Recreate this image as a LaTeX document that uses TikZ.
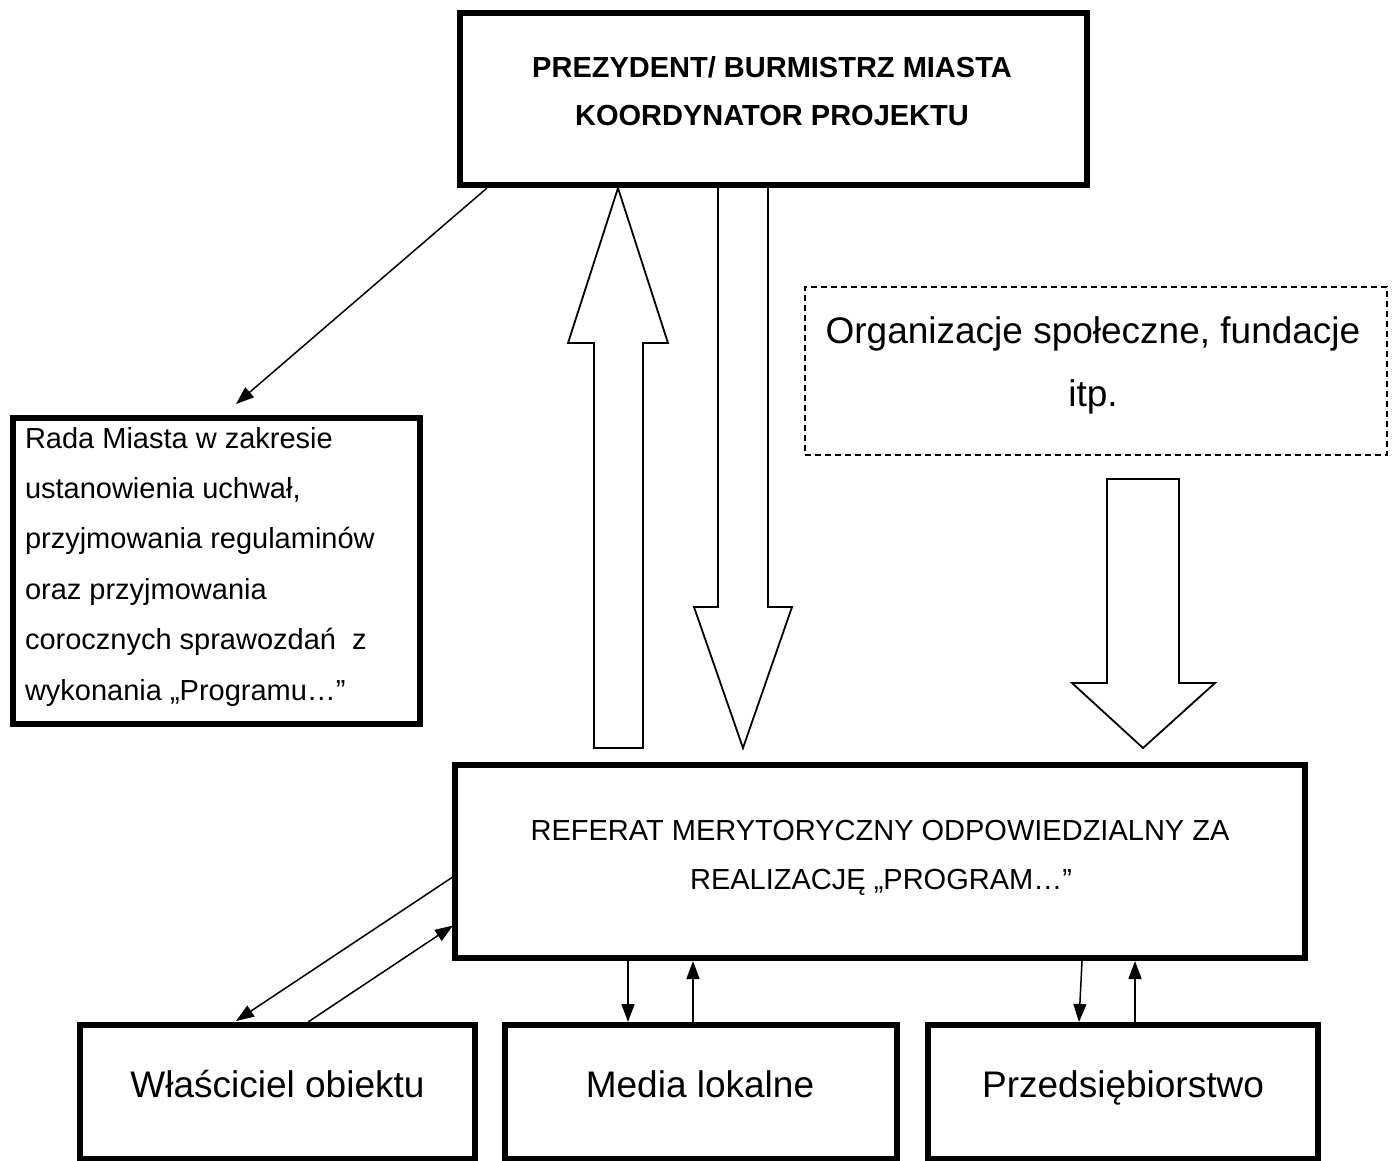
\documentclass[tikz,border=0pt]{standalone}
\usepackage{fontspec}
\setmainfont{Liberation Sans}
\usetikzlibrary{arrows.meta,calc}
\begin{document}
\begin{tikzpicture}[x=1pt,y=-1pt,
  box/.style={draw,line width=6pt,rectangle,inner sep=0pt,outer sep=0pt},
  dbox/.style={draw,line width=1.8pt,dash pattern=on 6pt off 4pt,rectangle,inner sep=0pt,outer sep=0pt},
  txt/.style={inner sep=0pt,outer sep=0pt,anchor=base,font=\fontsize{29pt}{35pt}\selectfont},
  btxt/.style={inner sep=0pt,outer sep=0pt,anchor=base,font=\bfseries\fontsize{29pt}{35pt}\selectfont},
  big/.style={inner sep=0pt,outer sep=0pt,anchor=base,font=\fontsize{37pt}{44pt}\selectfont},
  lft/.style={inner sep=0pt,outer sep=0pt,anchor=base west,font=\fontsize{29pt}{35pt}\selectfont},
  arr/.style={line width=1.5pt,-{Triangle[length=18pt,width=13pt]}},
  blk/.style={draw,line width=1.8pt,fill=white,line join=miter}]
\useasboundingbox (0,0) rectangle (1394,1161);
\fill[white] (0,0) rectangle (1394,1161);

% hollow block arrows
\draw[blk] (594,748) -- (594,343) -- (568,343) -- (618,188) -- (668,343) -- (643,343) -- (643,748) -- cycle;
\draw[blk] (718,186) -- (768,186) -- (768,607) -- (792,607) -- (743,748) -- (694,607) -- (718,607) -- cycle;
\draw[blk] (1107,479) -- (1179,479) -- (1179,683) -- (1215,683) -- (1143,748) -- (1072,683) -- (1107,683) -- cycle;

% boxes
\node[box,minimum width=627pt,minimum height=172pt] (pres) at (773.5,99) {};
\node[btxt] (presA) at (772,78) {PREZYDENT/ BURMISTRZ MIASTA};
\node[btxt] (presB) at (772,126) {KOORDYNATOR PROJEKTU};

\node[box,minimum width=407pt,minimum height=306pt] (rada) at (216.5,571) {};
\node[lft] (r1) at (25,448) {Rada Miasta w zakresie};
\node[lft] (r2) at (25,498.4) {ustanowienia uchwał,};
\node[lft] (r3) at (25,548.8) {przyjmowania regulaminów};
\node[lft] (r4) at (25,599.2) {oraz przyjmowania};
\node[lft] (r5) at (25,649.6) {corocznych sprawozdań~ z};
\node[lft] (r6) at (25,700) {wykonania „Programu…”};

\node[dbox,minimum width=582pt,minimum height=168pt] (org) at (1096,371) {};
\node[big] (o1) at (1093,343) {Organizacje społeczne, fundacje};
\node[big] (o2) at (1093,406) {itp.};

\node[box,minimum width=850pt,minimum height=193pt] (ref) at (880,861.5) {};
\node[txt] (ref1) at (880,840) {REFERAT MERYTORYCZNY ODPOWIEDZIALNY ZA};
\node[txt] (ref2) at (881,889) {REALIZACJĘ „PROGRAM…”};

\node[box,minimum width=395pt,minimum height=134pt] (own) at (277.5,1092) {};
\node[big] (ownt) at (277.5,1097) {Właściciel obiektu};
\node[box,minimum width=392pt,minimum height=134pt] (media) at (701,1092) {};
\node[big] (mediat) at (700,1097) {Media lokalne};
\node[box,minimum width=390pt,minimum height=134pt] (firm) at (1123,1092) {};
\node[big] (firmt) at (1123,1097) {Przedsiębiorstwo};

% thin connectors
\draw[arr] ($(pres.south west)+(27,3)$) -- ($(rada.north west)+(223,-14)$);
\draw[arr] ($(ref.west)+(-3,16)$) -- ($(own.north west)+(156,-4)$);
\draw[arr] ($(own.north west)+(228,-3)$) -- ($(ref.west)+(-2,64)$);
\draw[arr] ($(ref.south west)+(173,3)$) -- ($(media.north west)+(123,-3)$);
\draw[arr] ($(media.north west)+(188,-3)$) -- ($(ref.south west)+(238,3)$);
\draw[arr] ($(ref.south west)+(627,3)$) -- ($(firm.north west)+(151,-3)$);
\draw[arr] ($(firm.north west)+(207,-3)$) -- ($(ref.south west)+(680,3)$);
\end{tikzpicture}
\end{document}
